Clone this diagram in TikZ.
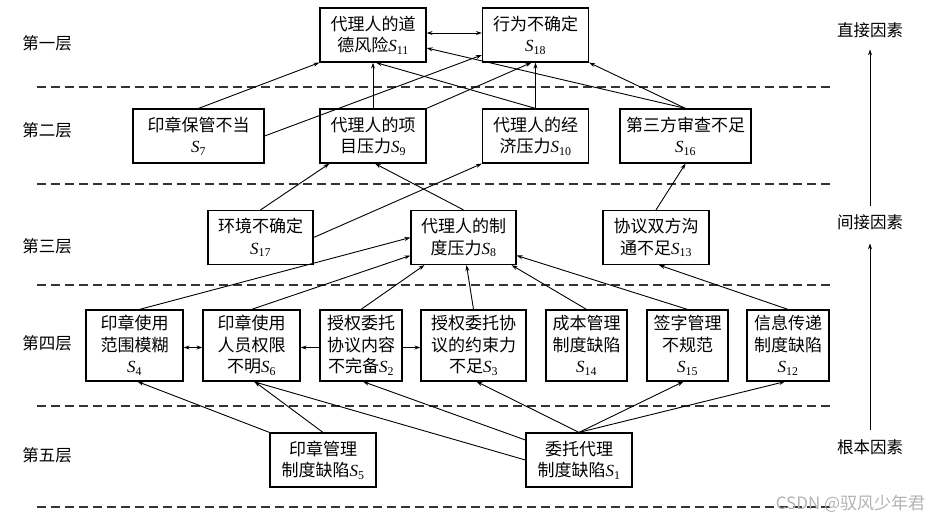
\documentclass[tikz,border=0pt]{standalone}
\usepackage{amsmath}
\usepackage{fontspec}
\setmainfont{Noto Sans CJK SC}
\newfontfamily\timesfont{Liberation Serif}
\newcommand{\Sf}[1]{{\timesfont\itshape S}\textsubscript{\timesfont #1}}
\usepackage{tikz}
\usetikzlibrary{arrows.meta}

\begin{document}
\begin{tikzpicture}[x=1pt, y=-1pt, thick, >={Stealth[length=6pt,width=4pt]},
    main/.style = {draw, line width=1.2pt, align=center, inner sep=0pt, minimum height=54pt, font=\fontsize{17}{21.5}\selectfont},
    tall/.style = {main, minimum height=71pt},
    layer/.style = {font=\fontsize{16.5}{20}\selectfont},
    sep/.style = {dash pattern=on 9pt off 5pt, line width=1.1pt, black!80},
    every path/.append style = {line width=0.9pt}]
    \useasboundingbox (0,0) rectangle (933,520);

    % layer separators
    \draw[sep] (37,87) -- (830,87);
    \draw[sep] (37,184) -- (830,184);
    \draw[sep] (37,285) -- (830,285);
    \draw[sep] (37,406) -- (830,406);
    \draw[sep] (37,507) -- (830,507);

    % layer names
    \node[layer] (L1) at (47,43) {第一层};
    \node[layer] (L2) at (47,130) {第二层};
    \node[layer] (L3) at (47,246) {第三层};
    \node[layer] (L4) at (47,343) {第四层};
    \node[layer] (L5) at (47,455) {第五层};

    % factor kinds
    \node[layer] (F1) at (870,30) {直接因素};
    \node[layer] (F2) at (870,222) {间接因素};
    \node[layer] (F3) at (870,447) {根本因素};
    \draw[->, shorten <=5pt, shorten >=8pt] (F2.north) -- (F1.south);
    \draw[->, shorten <=6pt, shorten >=10pt] (F3.north) -- (F2.south);

    % nodes
    \node[main, minimum width=106pt] (S11) at (373,35) {代理人的道\\德风险\Sf{11}};
    \node[main, minimum width=106pt] (S18) at (535.5,35) {行为不确定\\\Sf{18}};

    \node[main, minimum width=131pt] (S7) at (198.5,136) {印章保管不当\\\Sf{7}};
    \node[main, minimum width=106pt] (S9) at (373,136) {代理人的项\\目压力\Sf{9}};
    \node[main, minimum width=106pt] (S10) at (535.5,136) {代理人的经\\济压力\Sf{10}};
    \node[main, minimum width=131pt] (S16) at (685.5,136) {第三方审查不足\\\Sf{16}};

    \node[main, minimum width=105pt] (S17) at (260.5,237.5) {环境不确定\\\Sf{17}};
    \node[main, minimum width=105pt] (S8) at (463.5,237.5) {代理人的制\\度压力\Sf{8}};
    \node[main, minimum width=106pt] (S13) at (656,237.5) {协议双方沟\\通不足\Sf{13}};

    \node[tall, minimum width=97pt] (S4) at (134.5,345.5) {印章使用\\范围模糊\\\Sf{4}};
    \node[tall, minimum width=97pt] (S6) at (251.5,345.5) {印章使用\\人员权限\\不明\Sf{6}};
    \node[tall, minimum width=82pt] (S2) at (361,345.5) {授权委托\\协议内容\\不完备\Sf{2}};
    \node[tall, minimum width=105pt] (S3) at (473.5,345.5) {授权委托协\\议的约束力\\不足\Sf{3}};
    \node[tall, minimum width=81pt] (S14) at (586.5,345.5) {成本管理\\制度缺陷\\\Sf{14}};
    \node[tall, minimum width=81pt] (S15) at (687.5,345.5) {签字管理\\不规范\\\Sf{15}};
    \node[tall, minimum width=82pt] (S12) at (788,345.5) {信息传递\\制度缺陷\\\Sf{12}};

    \node[main, minimum width=106pt] (S5) at (323,460) {印章管理\\制度缺陷\Sf{5}};
    \node[main, minimum width=106pt] (S1) at (579,460) {委托代理\\制度缺陷\Sf{1}};

    % into layer 1
    \draw[<->] ([yshift=2pt]S11.east) -- ([yshift=2pt]S18.west);
    \draw[->] (S7.north) -- (S11.south west);
    \draw[->] (S7.east) -- ([yshift=-20pt]S18.west);
    \draw[->] (S9.north) -- (S11.south);
    \draw[->] (S9.north east) -- ([xshift=-4pt]S18.south);
    \draw[->] (S10.north) -- ([xshift=3pt]S11.south);
    \draw[->] (S10.north) -- (S18.south);
    \draw[->] (S16.north) -- ([yshift=-13pt]S11.east);
    \draw[->] (S16.north) -- (S18.south east);

    % into layer 2
    \draw[->] (S17.north) -- ([xshift=10pt]S9.south west);
    \draw[->] (S17.east) -- (S10.south west);
    \draw[->] (S8.north) -- ([xshift=2pt]S9.south);
    \draw[->] (S13.north) -- (S16.south);

    % into layer 3
    \draw[->] ([xshift=5pt]S4.north) -- (S8.west);
    \draw[->] (S6.north) -- ([yshift=-18pt]S8.west);
    \draw[->] (S2.north) -- ([xshift=14pt]S8.south west);
    \draw[->] (S3.north) -- ([xshift=3pt]S8.south);
    \draw[->] (S14.north) -- ([xshift=-5pt]S8.south east);
    \draw[->] (S15.north) -- ([yshift=-18pt]S8.east);
    \draw[->] (S12.north) -- ([xshift=3pt]S13.south);

    % inside layer 4
    \draw[<->] ([yshift=-2pt]S4.east) -- ([yshift=-2pt]S6.west);
    \draw[->] ([yshift=-2pt]S2.west) -- ([yshift=-2pt]S6.east);
    \draw[->] ([yshift=-2pt]S2.east) -- ([yshift=-2pt]S3.west);

    % into layer 4
    \draw[->] (S5.north west) -- ([xshift=3pt]S4.south);
    \draw[->] (S5.north) -- ([xshift=3pt]S6.south);
    \draw[->] (S1.west) -- ([xshift=2pt]S6.south);
    \draw[->] ([yshift=20pt]S1.west) -- ([xshift=2pt]S2.south);
    \draw[->] (S1.north) -- ([xshift=3pt]S3.south);
    \draw[->] (S1.north) -- ([xshift=-4pt]S15.south);
    \draw[->] (S1.north) -- ([xshift=-3pt]S12.south);

    % watermark
    \node[anchor=east, text=black!30, font=\fontsize{17}{19}\selectfont] (wm) at (929,504) {CSDN @驭风少年君};
\end{tikzpicture}
\end{document}
